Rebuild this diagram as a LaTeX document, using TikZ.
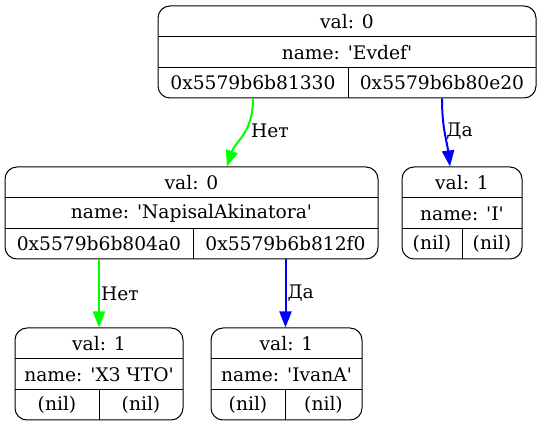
\documentclass[tikz,border=0pt]{standalone}
\usepackage{fontspec}
\setmainfont{DejaVu Serif}
\usetikzlibrary{arrows.meta, fit}
\definecolor{nogreen}{RGB}{0,255,0}
\definecolor{yesblue}{RGB}{0,0,255}
% record: name, left, top, right, divider, val, name, left ptr, right ptr
\newcommand{\recnode}[9]{%
  \node[rec, fit={(#2,#3) (#4,#3+92)}] (#1) {};
  \node[cell] (#1v) at ({(#2+#4)/2},#3+15.5) {val: #6};
  \node[cell] (#1n) at ({(#2+#4)/2},#3+46.5) {name: \textquotesingle#7\textquotesingle};
  \node[cell] (#1l) at ({(#2+#5)/2},#3+77) {#8};
  \node[cell] (#1r) at ({(#5+#4)/2},#3+77) {#9};
  \draw[sep] (#2,#3+31) -- (#4,#3+31);
  \draw[sep] (#2,#3+61.5) -- (#4,#3+61.5);
  \draw[sep] (#5,#3+61.5) -- (#5,#3+92);
}

\begin{document}
\begin{tikzpicture}[x=1pt, y=-1pt,
    rec/.style={draw, rounded corners=12pt, inner sep=0pt, line width=1pt},
    cell/.style={inner sep=0pt},
    sep/.style={line width=1pt},
    nolink/.style={line width=2pt, nogreen, -{Triangle[length=16pt, width=12pt]}},
    yeslink/.style={line width=2pt, yesblue, -{Triangle[length=16pt, width=12pt]}},
    lbl/.style={right, inner sep=1pt, text=black},
    font=\fontsize{18.67pt}{22pt}\selectfont
  ]
  \useasboundingbox (0,0) rectangle (541,427);

  % Records
  \recnode{n0}{158}{6}{536}{348}{0}{Evdef}{0x5579b6b81330}{0x5579b6b80e20}
  \recnode{n1}{5}{167}{378}{193}{0}{NapisalAkinatora}{0x5579b6b804a0}{0x5579b6b812f0}
  \recnode{n2}{402}{167}{522}{462}{1}{I}{(nil)}{(nil)}
  \recnode{n3}{15}{328}{183}{99}{1}{ХЗ ЧТО}{(nil)}{(nil)}
  \recnode{n4}{211}{328}{362}{285}{1}{IvanA}{(nil)}{(nil)}

  % Links
  \draw[nolink] (n0l |- n0.south) .. controls +(0,35) and +(8,-25) .. ([xshift=35.5pt]n1.north)
    node[lbl, pos=0.4, xshift=3pt] (t01) {Нет};
  \draw[yeslink] (n0r |- n0.south) .. controls +(0,30) and +(-3,-25) .. ([xshift=-12pt]n2.north)
    node[lbl, pos=0.45] (t02) {Да};
  \draw[nolink] (n1l |- n1.south) -- node[lbl] (t13) {Нет} (n1l |- n3.north);
  \draw[yeslink] (n1r |- n1.south) -- node[lbl] (t14) {Да} (n1r |- n4.north);
\end{tikzpicture}
\end{document}
